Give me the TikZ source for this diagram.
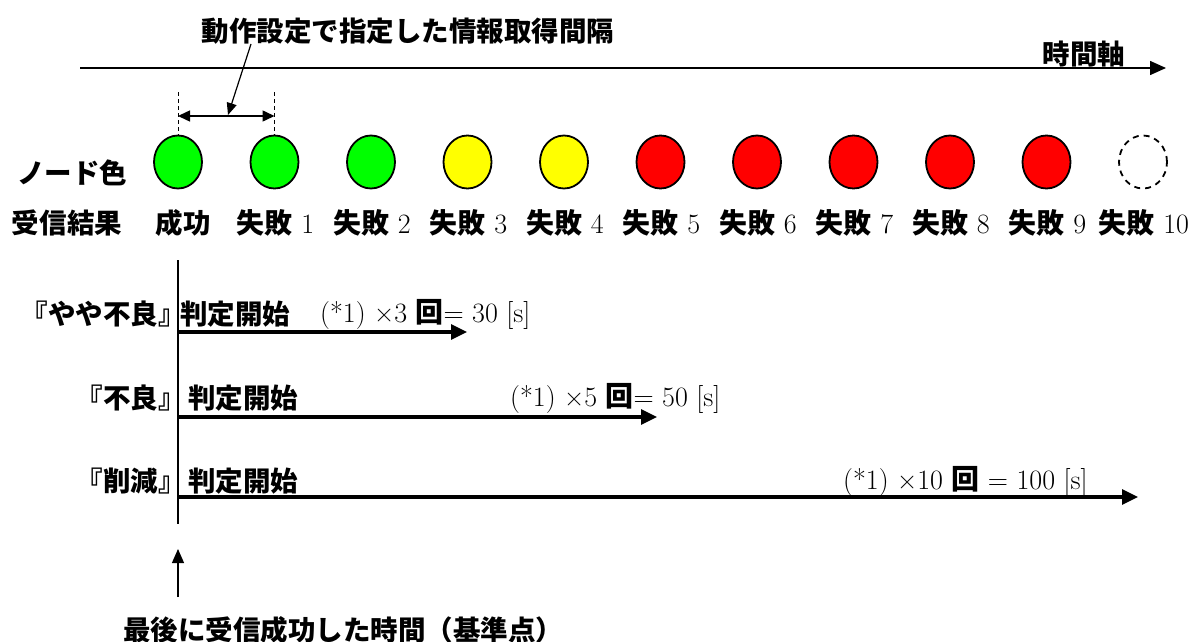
\documentclass[tikz,border=0pt]{standalone}
\usepackage{fontspec}
\newfontfamily\jpfont{Noto Sans CJK JP}
\newcommand\jpb{\jpfont\bfseries}
\usetikzlibrary{arrows.meta,shapes.geometric}
\definecolor{ngreen}{RGB}{0,255,0}
\definecolor{nyellow}{RGB}{255,255,0}
\definecolor{nred}{RGB}{255,0,0}
\begin{document}
\begin{tikzpicture}[x=1pt,y=-1pt,
  lbl/.style={inner sep=0pt, font=\fontsize{28}{32}\selectfont},
  jlbl/.style={inner sep=0pt, font=\fontsize{27.5}{32}\selectfont\jpb},
  dot/.style={ellipse, draw=black, line width=1.8pt, minimum width=48pt, minimum height=53pt, inner sep=0pt},
  guide/.style={line width=1pt, dash pattern=on 4pt off 3pt},
  thinarrow/.style={line width=1.2pt, -{Triangle[length=14pt,width=12pt]}},
  fatarrow/.style={line width=3.2pt, -{Triangle[length=16pt,width=15pt]}}
]
\useasboundingbox (0,0) rectangle (1196,642);

% title and time axis
\node[jlbl] (title) at (408,31) {動作設定で指定した情報取得間隔};
\coordinate (a0) at (80,68);
\coordinate (a1) at (1166,68);
\draw[line width=1.5pt, -{Triangle[length=16pt,width=14pt]}] (a0) -- (a1);
\node[jlbl] (axlbl) at (1084,54) {時間軸};

% node colour circles
\foreach \i/\c in {0/ngreen,1/ngreen,2/ngreen,3/nyellow,4/nyellow,5/nred,6/nred,7/nred,8/nred,9/nred}
  \node[dot, fill=\c] (c\i) at ({178+96.5*\i},162) {};
\node[dot, dash pattern=on 6pt off 5pt] (c10) at ({178+96.5*10},162) {};

% interval indicator
\coordinate (g0) at (178,92);
\coordinate (g1) at (274.5,92);
\draw[guide] (g0) -- (c0.north);
\draw[guide] (g1) -- (c1.north);
\coordinate (d0) at (178,116);
\coordinate (d1) at (274.5,116);
\draw[line width=1.5pt, {Triangle[length=12pt,width=11pt]}-{Triangle[length=12pt,width=11pt]}] (d0) -- (d1);
\coordinate (p0) at (251,44);
\coordinate (p1) at (228,115);
\draw[line width=1.2pt, -{Triangle[length=12pt,width=10pt]}] (p0) -- (p1);

% row labels
\node[jlbl] (nodecol) at (72,173) {ノード色};
\node[jlbl] (recv) at (67,223) {受信結果};
\node[jlbl] (r0) at (183,223) {成功};
\foreach \i in {1,...,10}
  \node[lbl] (r\i) at ({178+96.5*\i+1},223) {{\jpb 失敗} \i};

% reference vertical line
\coordinate (v0) at (178,260);
\coordinate (v1) at (178,524);
\draw[line width=1.2pt] (v0) -- (v1);

% row 1
\node[jlbl, anchor=east] (l1) at (186,314) {『やや不良』};
\node[jlbl, anchor=west] (s1) at (180,314) {判定開始};
\node[lbl, anchor=west] (f1) at (320,314) {(*1) ×3 {\jpb 回}= 30 [s]};
\coordinate (b1) at (178,332);
\coordinate (e1) at (467,332);
\draw[fatarrow] (b1) -- (e1);

% row 2
\node[jlbl, anchor=east] (l2) at (186,398) {『不良』};
\node[jlbl, anchor=west] (s2) at (188,398) {判定開始};
\node[lbl, anchor=west] (f2) at (510,398) {(*1) ×5 {\jpb 回}= 50 [s]};
\coordinate (b2) at (178,417);
\coordinate (e2) at (657,417);
\draw[fatarrow] (b2) -- (e2);

% row 3
\node[jlbl, anchor=east] (l3) at (186,481) {『削減』};
\node[jlbl, anchor=west] (s3) at (188,481) {判定開始};
\node[lbl, anchor=west] (f3) at (843,481) {(*1) ×10 {\jpb 回} = 100 [s]};
\coordinate (b3) at (178,497);
\coordinate (e3) at (1138,497);
\draw[fatarrow] (b3) -- (e3);

% base point
\coordinate (u0) at (178,597);
\coordinate (u1) at (178,549);
\draw[thinarrow] (u0) -- (u1);
\node[jlbl] (base) at (343,630) {最後に受信成功した時間（基準点）};
\end{tikzpicture}
\end{document}
